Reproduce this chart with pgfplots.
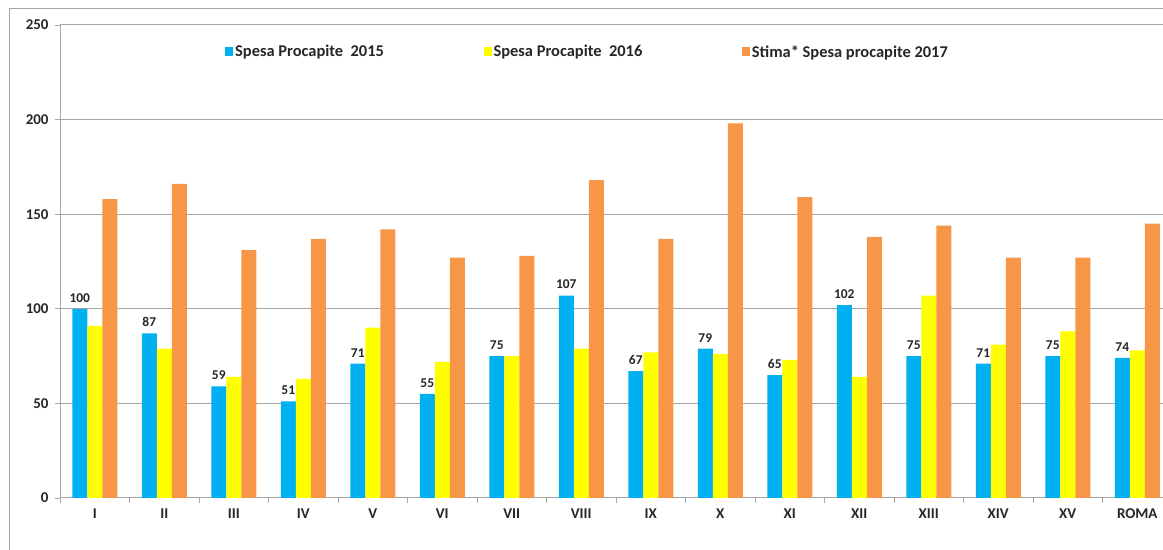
\documentclass[border=0pt]{standalone}
\usepackage{fontspec}
\setmainfont{Carlito}
\usepackage{pgfplots}
\usepackage{pgfplotstable}
\pgfplotsset{compat=1.18}
\definecolor{cblue}{HTML}{00B0F0}
\definecolor{cyellow}{HTML}{FFFF00}
\definecolor{corange}{HTML}{F79646}
\definecolor{cgrid}{HTML}{A6A6A6}

\pgfplotstableread{
x  a    b    c
0  100  91   158
1  87   79   166
2  59   64   131
3  51   63   137
4  71   90   142
5  55   72   127
6  75   75   128
7  107  79   168
8  67   77   137
9  79   76   198
10 65   73   159
11 102  64   138
12 75   107  144
13 71   81   127
14 75   88   127
15 74   78   145
}\datatable

\begin{document}
\begin{tikzpicture}[x=1bp,y=1bp]
\useasboundingbox (0,0) rectangle (1163,550);
\clip (0,0) rectangle (1163,550);
\draw[cgrid, line width=1bp] (9,0) -- (9,541) -- (1163,541);
\begin{axis}[
  at={(60bp,52bp)}, anchor=south west,
  scale only axis, width=1112bp, height=473bp,
  ybar=0pt, bar width=15bp,
  xmin=-0.5, xmax=15.5, ymin=0, ymax=250,
  ytick={0,50,...,250},
  xtick={0,...,15},
  xticklabels={I,II,III,IV,V,VI,VII,VIII,IX,X,XI,XII,XIII,XIV,XV,ROMA},
  minor xtick={-0.5,0.5,...,14.5},
  axis x line*=bottom,
  axis y line*=left,
  axis line style={draw=cgrid, line width=1bp, -},
  tick align=outside,
  major tick length=5bp,
  minor tick length=5bp,
  xtick pos=bottom,
  ytick pos=left,
  major x tick style={draw=none},
  minor x tick style={draw=cgrid, line width=0.8bp},
  ytick style={draw=cgrid, line width=0.8bp},
  ymajorgrids,
  grid style={draw=cgrid, line width=1bp},
  /pgf/number format/assume math mode=true,
  ticklabel style={font=\fontsize{15}{17}\selectfont\bfseries, text=black!85},
  xticklabel style={yshift=-2pt},
  yticklabel style={xshift=-3pt},
  legend style={at={(0.1484,0.943)}, anchor=west, draw=none, fill=none,
    inner sep=0pt, font=\fontsize{16.5}{18}\selectfont\bfseries, text=black!85,
    /tikz/every even column/.append style={column sep=98pt}},
  legend columns=3,
  legend image code/.code={\fill[#1,draw=none] (0pt,-4.5pt) rectangle (8pt,4.5pt);},
  enlarge x limits=false,
]
\addplot[fill=cblue, draw=none,
  nodes near coords,
  nodes near coords style={font=\fontsize{13.5}{15}\selectfont\bfseries, text=black!85, anchor=south, yshift=3pt}]
  table[x=x, y=a] {\datatable};
\addlegendentry{Spesa Procapite\ \ 2015}
\addplot[fill=cyellow, draw=none] table[x=x, y=b] {\datatable};
\addlegendentry{Spesa Procapite\ \ 2016}
\addplot[fill=corange, draw=none] table[x=x, y=c] {\datatable};
\addlegendentry{Stima* Spesa procapite 2017}
\end{axis}
\end{tikzpicture}
\end{document}
